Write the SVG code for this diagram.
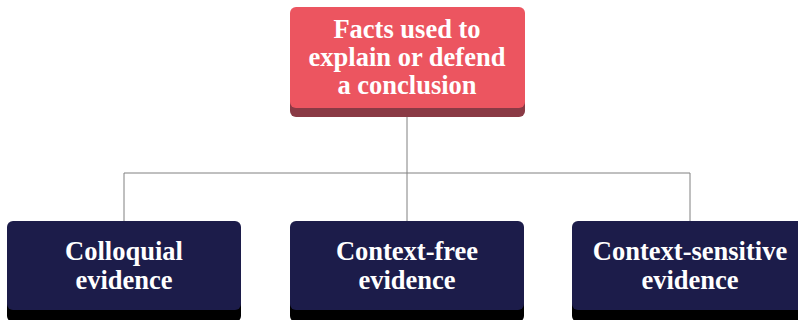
<svg xmlns="http://www.w3.org/2000/svg" width="798" height="320" viewBox="0 0 798 320">
<style>
.t{font-family:"Liberation Serif","DejaVu Serif",serif;font-weight:bold;font-size:26.5px;fill:#ffffff;text-anchor:middle}
.c{fill:none;stroke:#808080;stroke-width:1}
.red{fill:#ec5560}
.redsh{fill:#8a3a45}
.navy{fill:#1c1c4a}
.navysh{fill:#000000}
</style>
<rect width="798" height="320" fill="#ffffff"/>
<g id="connectors">
<path class="c" d="M407 112 V173 M124 173 H690 M124 173 V224 M407 173 V224 M690 173 V224"/>
</g>
<g id="root">
<rect class="redsh" x="290" y="14" width="235" height="103" rx="6"/>
<rect class="red" x="290" y="7" width="235" height="101" rx="6"/>
<text class="t" x="407" y="38">Facts used to</text>
<text class="t" x="407" y="66">explain or defend</text>
<text class="t" x="407" y="94">a conclusion</text>
</g>
<g id="colloquial">
<rect class="navysh" x="7" y="228" width="234" height="94" rx="6"/>
<rect class="navy" x="7" y="221" width="234" height="89" rx="6"/>
<text class="t" x="124" y="260">Colloquial</text>
<text class="t" x="124" y="289">evidence</text>
</g>
<g id="contextfree">
<rect class="navysh" x="290" y="228" width="234" height="94" rx="6"/>
<rect class="navy" x="290" y="221" width="234" height="89" rx="6"/>
<text class="t" x="407" y="260">Context-free</text>
<text class="t" x="407" y="289">evidence</text>
</g>
<g id="contextsensitive">
<rect class="navysh" x="572" y="228" width="240" height="94" rx="6"/>
<rect class="navy" x="572" y="221" width="240" height="89" rx="6"/>
<text class="t" x="690" y="260">Context-sensitive</text>
<text class="t" x="690" y="289">evidence</text>
</g>
</svg>
